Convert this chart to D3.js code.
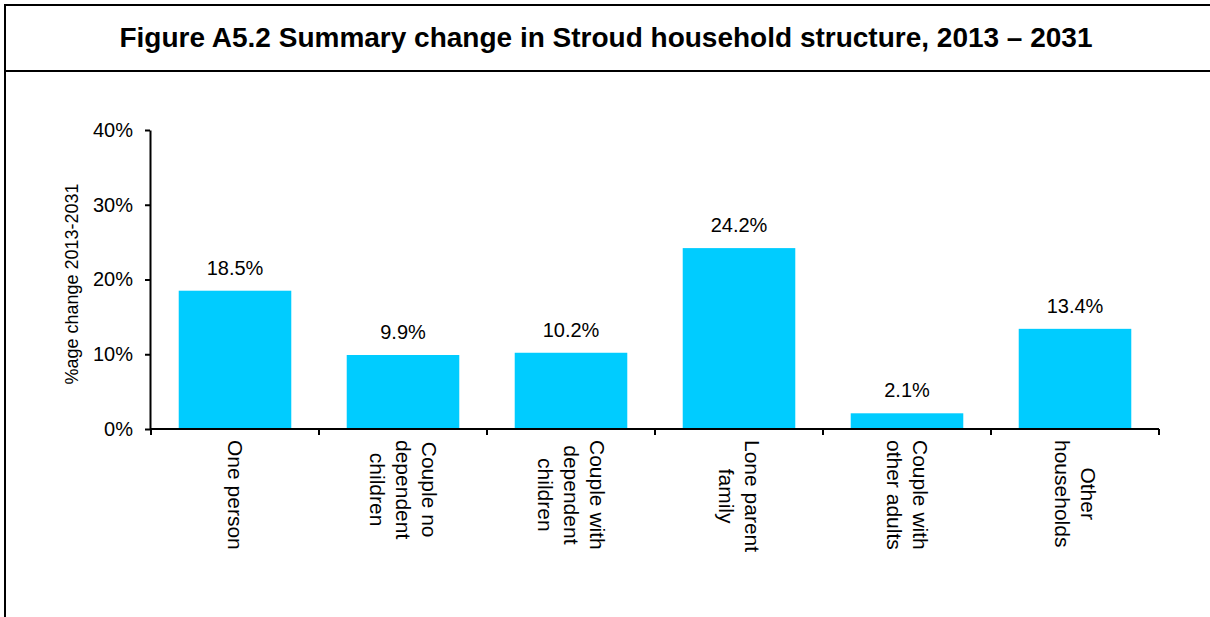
<!DOCTYPE html>
<html>
<head>
<meta charset="utf-8">
<script src="https://cdn.jsdelivr.net/npm/d3@7"></script>
<style>
  body { margin: 0; background: #fff; }
  text { font-family: Arial, "Liberation Sans", sans-serif; fill: #000; }
</style>
</head>
<body>
<svg id="chart" width="1210" height="617"></svg>
<script>
// household types, split into the lines shown under the axis
var categories = ["One person", "Couple no dependent children", "Couple with dependent children",
                  "Lone parent family", "Couple with other adults", "Other households"];
var categoryLines = [["One person"], ["Couple no", "dependent", "children"], ["Couple with", "dependent", "children"],
                     ["Lone parent", "family"], ["Couple with", "other adults"], ["Other", "households"]];
var pctChange = [18.5, 9.9, 10.2, 24.2, 2.1, 13.4];
var yTicks = [0, 10, 20, 30, 40];

var svg = d3.select("#chart");

// outer frame (cut off at the right and bottom like the original)
svg.append("rect")
	.attr("x", 5).attr("y", 5)
	.attr("width", 1300).attr("height", 700)
	.attr("fill", "none")
	.attr("stroke", "#000")
	.attr("stroke-width", 2);
svg.append("line")
	.attr("x1", 5).attr("x2", 1210)
	.attr("y1", 71).attr("y2", 71)
	.attr("stroke", "#000")
	.attr("stroke-width", 2);

svg.append("text")
	.attr("x", 606).attr("y", 47)
	.attr("text-anchor", "middle")
	.style("font-size", "28px")
	.style("font-weight", "bold")
	.text("Figure A5.2 Summary change in Stroud household structure, 2013 \u2013 2031");

var x = d3.scaleBand()
	.domain(categories)
	.range([151, 1159])
	.paddingInner(0.33)
	.paddingOuter(0.165);

var y = d3.scaleLinear()
	.domain([0, 40])
	.range([429, 130]);

// bars
svg.append("g").selectAll("rect")
	.data(pctChange)
	.enter().append("rect")
	.attr("x", function(d, i) { return x(categories[i]); })
	.attr("y", function(d) { return y(d); })
	.attr("width", x.bandwidth())
	.attr("height", function(d) { return y(0) - y(d); })
	.style("fill", "#00CCFF");

// value labels
svg.append("g").selectAll("text")
	.data(pctChange)
	.enter().append("text")
	.attr("x", function(d, i) { return x(categories[i]) + x.bandwidth() / 2; })
	.attr("y", function(d) { return y(d) - 16; })
	.attr("text-anchor", "middle")
	.style("font-size", "20px")
	.text(function(d) { return d.toFixed(1) + "%"; });

// y axis
var yAxis = svg.append("g")
	.attr("transform", "translate(150,0)")
	.call(d3.axisLeft(y)
		.tickValues(yTicks)
		.tickSize(5)
		.tickSizeOuter(0)
		.tickPadding(12)
		.tickFormat(function(d) { return d + "%"; }));
yAxis.select(".domain").attr("stroke-width", 2);
yAxis.selectAll(".tick line").attr("stroke-width", 2);
yAxis.selectAll("text").style("font-size", "20px").attr("fill", "#000");

svg.append("text")
	.attr("transform", "translate(78,284) rotate(-90)")
	.attr("text-anchor", "middle")
	.style("font-size", "18px")
	.text("%age change 2013-2031");

// x axis with ticks on the category boundaries
var gap = (x.step() - x.bandwidth()) / 2;
var edges = categories.map(function(c) { return x(c) - gap; });
edges.push(x(categories[categories.length - 1]) + x.bandwidth() + gap);

var xAxis = svg.append("g");
xAxis.append("line")
	.attr("x1", x.range()[0]).attr("x2", x.range()[1])
	.attr("y1", y(0)).attr("y2", y(0))
	.attr("stroke", "#000")
	.attr("stroke-width", 2);
xAxis.selectAll(".edge")
	.data(edges)
	.enter().append("line")
	.attr("class", "edge")
	.attr("x1", function(d) { return d; }).attr("x2", function(d) { return d; })
	.attr("y1", y(0)).attr("y2", y(0) + 6)
	.attr("stroke", "#000")
	.attr("stroke-width", 2);

// rotated category labels, lines centred on the longest one
var lineGap = 26;
categoryLines.forEach(function(lines, i) {
	var cx = x(categories[i]) + x.bandwidth() / 2;
	var g = svg.append("g")
		.attr("transform", "translate(" + cx + ",440) rotate(90)");
	var texts = lines.map(function(line, k) {
		return g.append("text")
			.attr("y", (k - (lines.length - 1) / 2) * lineGap)
			.attr("dy", "0.35em")
			.attr("text-anchor", "middle")
			.style("font-size", "21px")
			.text(line);
	});
	var longest = d3.max(texts, function(t) { return t.node().getComputedTextLength(); });
	texts.forEach(function(t) { t.attr("x", longest / 2); });
});
</script>
</body>
</html>
